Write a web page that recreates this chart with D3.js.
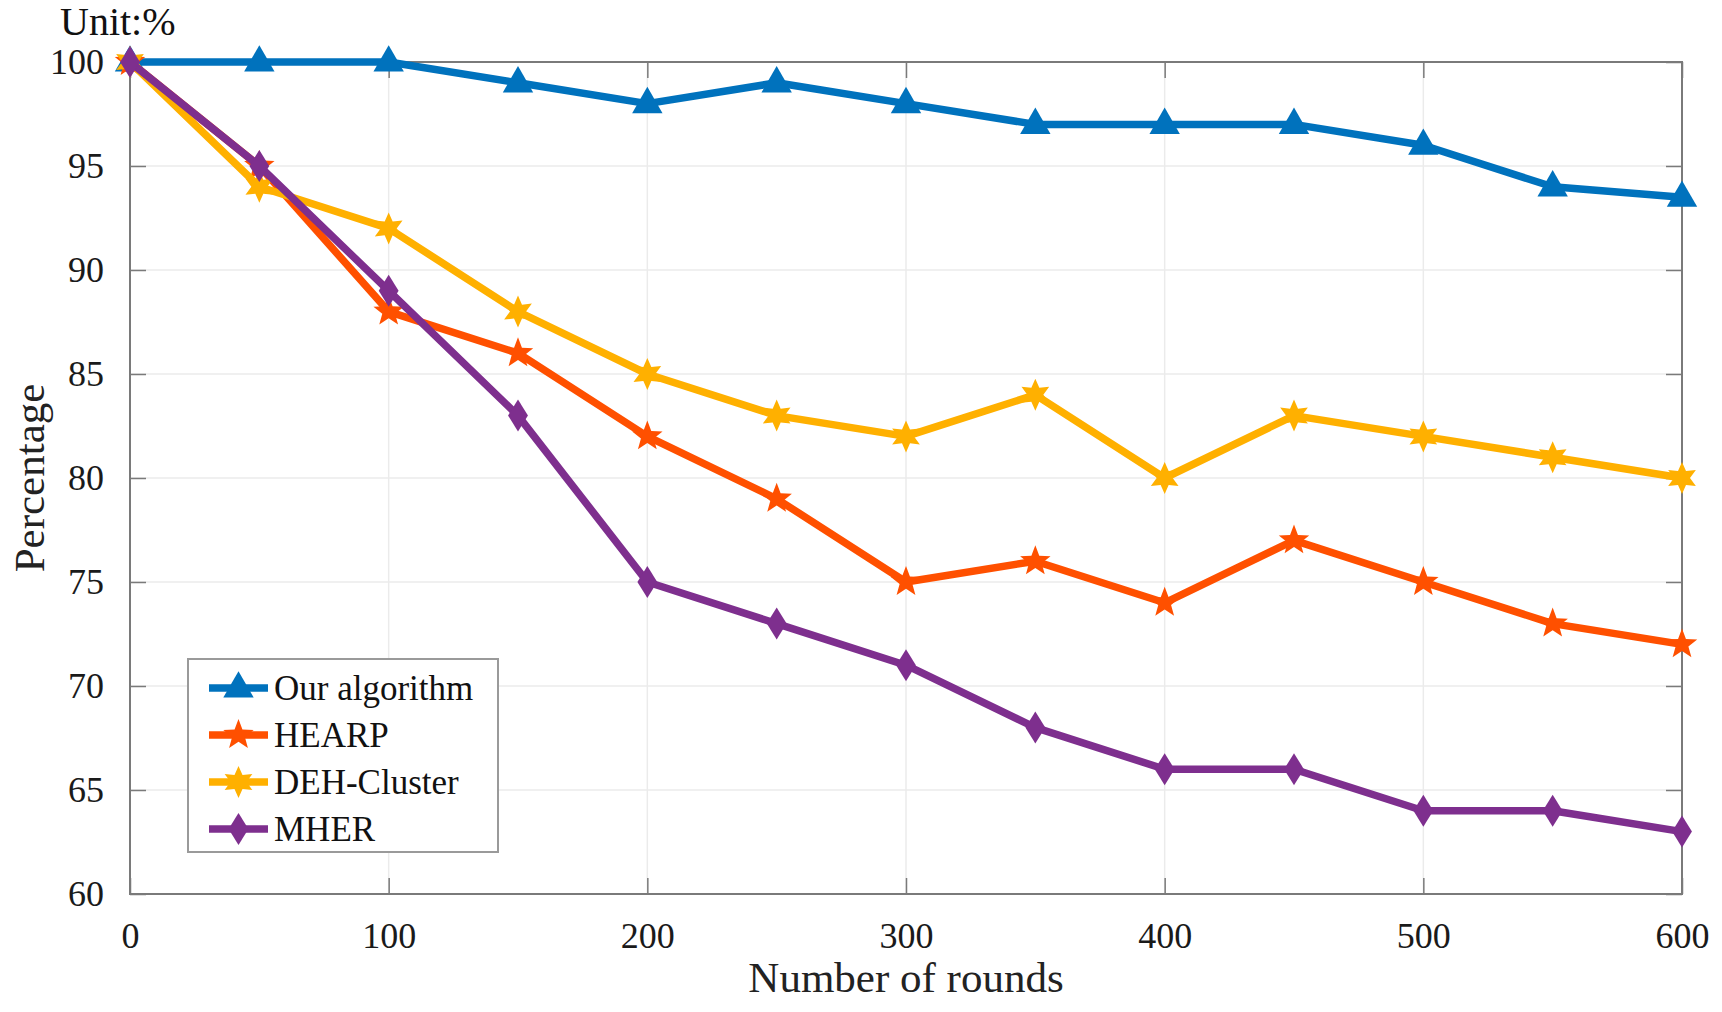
<!DOCTYPE html>
<html>
<head>
<meta charset="utf-8">
<script src="https://cdn.jsdelivr.net/npm/d3@7"></script>
<style>
  body { margin: 0; background: #fff; }
  svg { display: block; font-family: "Liberation Serif", "Times New Roman", serif; }
</style>
</head>
<body>
<div id="chart"></div>
<script>
// values
const rounds = [0, 50, 100, 150, 200, 250, 300, 350, 400, 450, 500, 550, 600];
const ourAlgorithm = [100, 100, 100, 99, 98, 99, 98, 97, 97, 97, 96, 94, 93.5];
const hearp = [100, 95, 88, 86, 82, 79, 75, 76, 74, 77, 75, 73, 72];
const dehCluster = [100, 94, 92, 88, 85, 83, 82, 84, 80, 83, 82, 81, 80];
const mher = [100, 95, 89, 83, 75, 73, 71, 68, 66, 66, 64, 64, 63];
const seriesNames = ["Our algorithm", "HEARP", "DEH-Cluster", "MHER"];
const xTicks = [0, 100, 200, 300, 400, 500, 600];
const yTicks = [60, 65, 70, 75, 80, 85, 90, 95, 100];

const series = [
    { name: seriesNames[0], values: ourAlgorithm, color: "#0072bd", marker: "triangle" },
    { name: seriesNames[1], values: hearp, color: "#ff5000", marker: "star" },
    { name: seriesNames[2], values: dehCluster, color: "#ffb000", marker: "hexagram" },
    { name: seriesNames[3], values: mher, color: "#7e2f8e", marker: "diamond" }
];

const width = 1722, height = 1012;
const margin = { top: 62, right: 40, bottom: 118, left: 130 };
const serif = "'Liberation Serif', 'Times New Roman', serif";

const x = d3.scaleLinear().domain([0, 600]).range([margin.left, width - margin.right]);
const y = d3.scaleLinear().domain([60, 100]).range([height - margin.bottom, margin.top]);

const svg = d3.select("#chart").append("svg")
    .attr("width", width)
    .attr("height", height);

// grid
svg.append("g")
    .attr("stroke", "#ebebeb")
    .attr("stroke-width", 1.5)
    .call(g => g.selectAll(".gx").data(xTicks).join("line")
        .attr("x1", d => x(d)).attr("x2", d => x(d))
        .attr("y1", y(60)).attr("y2", y(100)))
    .call(g => g.selectAll(".gy").data(yTicks).join("line")
        .attr("y1", d => y(d)).attr("y2", d => y(d))
        .attr("x1", x(0)).attr("x2", x(600)));

// axes with inward ticks, mirrored on top and right (box on)
const tickLen = 16;
const axisColor = "#7a7a7a";
function styleAxis(g) {
    g.attr("font-family", serif).attr("font-size", 36);
    g.select(".domain").remove();
    g.selectAll(".tick line").attr("stroke", axisColor).attr("stroke-width", 1.5);
    g.selectAll("text").attr("fill", "#1a1a1a");
}

svg.append("g")
    .attr("transform", `translate(0,${y(60)})`)
    .call(d3.axisBottom(x).tickValues(xTicks).tickSizeInner(-tickLen).tickSizeOuter(0).tickPadding(28))
    .call(styleAxis);

svg.append("g")
    .attr("transform", `translate(0,${y(100)})`)
    .call(d3.axisTop(x).tickValues(xTicks).tickSizeInner(-tickLen).tickSizeOuter(0).tickFormat(""))
    .call(styleAxis);

svg.append("g")
    .attr("transform", `translate(${x(0)},0)`)
    .call(d3.axisLeft(y).tickValues(yTicks).tickSizeInner(-tickLen).tickSizeOuter(0).tickPadding(26))
    .call(styleAxis);

svg.append("g")
    .attr("transform", `translate(${x(600)},0)`)
    .call(d3.axisRight(y).tickValues(yTicks).tickSizeInner(-tickLen).tickSizeOuter(0).tickFormat(""))
    .call(styleAxis);

svg.append("rect")
    .attr("x", x(0)).attr("y", y(100))
    .attr("width", x(600) - x(0)).attr("height", y(60) - y(100))
    .attr("fill", "none")
    .attr("stroke", axisColor)
    .attr("stroke-width", 2);

// markers
function markerPath(type, r) {
    if (type === "triangle") {
        return `M0,${-r * 1.05}L${r * 0.95},${r * 0.6}L${-r * 0.95},${r * 0.6}Z`;
    }
    if (type === "diamond") {
        return `M0,${-r}L${r * 0.62},0L0,${r}L${-r * 0.62},0Z`;
    }
    const points = type === "star" ? 5 : 6;
    const inner = type === "star" ? 0.42 : 0.5;
    const pts = [];
    for (let i = 0; i < points * 2; i++) {
        const a = -Math.PI / 2 + i * Math.PI / points;
        const rr = i % 2 === 0 ? r : r * inner;
        pts.push([rr * Math.cos(a), rr * Math.sin(a)]);
    }
    return "M" + pts.map(p => p.join(",")).join("L") + "Z";
}

const line = d3.line()
    .x((d, i) => x(rounds[i]))
    .y(d => y(d));

for (const s of series) {
    const g = svg.append("g");
    g.append("path")
        .attr("d", line(s.values))
        .attr("fill", "none")
        .attr("stroke", s.color)
        .attr("stroke-width", 7.5)
        .attr("stroke-linejoin", "round");
    g.selectAll("path.m")
        .data(s.values)
        .join("path")
        .attr("class", "m")
        .attr("transform", (d, i) => `translate(${x(rounds[i])},${y(d)})`)
        .attr("d", markerPath(s.marker, 16))
        .attr("fill", s.color);
}

// legend
const lg = svg.append("g");
lg.append("rect")
    .attr("x", 188).attr("y", 659)
    .attr("width", 310).attr("height", 193)
    .attr("fill", "#fff")
    .attr("stroke", "#9a9a9a")
    .attr("stroke-width", 2);

series.forEach((s, i) => {
    const cy = 688 + i * 47;
    lg.append("line")
        .attr("x1", 209).attr("x2", 268)
        .attr("y1", cy).attr("y2", cy)
        .attr("stroke", s.color)
        .attr("stroke-width", 7.5);
    lg.append("path")
        .attr("transform", `translate(238.5,${cy})`)
        .attr("d", markerPath(s.marker, 16))
        .attr("fill", s.color);
    lg.append("text")
        .attr("x", 274).attr("y", cy)
        .attr("dy", "0.35em")
        .attr("font-size", 35)
        .attr("fill", "#111")
        .text(s.name);
});

// titles
svg.append("text")
    .attr("x", 60).attr("y", 35)
    .attr("font-size", 40)
    .attr("fill", "#111")
    .text("Unit:%");

svg.append("text")
    .attr("x", (x(0) + x(600)) / 2).attr("y", 992)
    .attr("text-anchor", "middle")
    .attr("font-size", 43)
    .attr("fill", "#222")
    .text("Number of rounds");

svg.append("text")
    .attr("transform", `translate(44,${(y(60) + y(100)) / 2}) rotate(-90)`)
    .attr("text-anchor", "middle")
    .attr("font-size", 43)
    .attr("fill", "#222")
    .text("Percentage");
</script>
</body>
</html>
